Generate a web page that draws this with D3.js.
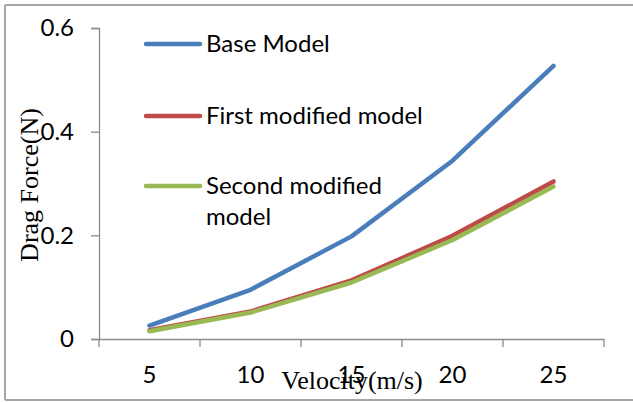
<!DOCTYPE html>
<html>
<head>
<meta charset="utf-8">
<script src="https://cdn.jsdelivr.net/npm/d3@7"></script>
<style>
  body { margin: 0; background: #fff; }
  svg { display: block; }
</style>
</head>
<body>
<div id="chart-area"></div>
<script>
const WIDTH = 633
const HEIGHT = 403
const MARGIN = { LEFT: 99, RIGHT: 29, TOP: 28, BOTTOM: 64 }

// data
const velocities = ["5", "10", "15", "20", "25"]
const baseModel = [0.026, 0.095, 0.198, 0.344, 0.527]
const firstModified = [0.017, 0.053, 0.113, 0.199, 0.304]
const secondModified = [0.015, 0.051, 0.109, 0.191, 0.294]
const yTicks = [0, 0.2, 0.4, 0.6]

const seriesNames = ["Base Model", "First modified model", "Second modified model"]
const seriesColors = ["#4a7ebb", "#be4b48", "#98b954"]
const series = [baseModel, firstModified, secondModified]

const svg = d3.select("#chart-area").append("svg")
  .attr("width", WIDTH)
  .attr("height", HEIGHT)

// outer frame (right side is cut off in the picture)
const frame = svg.append("g").attr("stroke", "#a6a6a6").attr("stroke-width", 2)
frame.append("line").attr("x1", 5).attr("x2", WIDTH).attr("y1", 5).attr("y2", 5)
frame.append("line").attr("x1", 5).attr("x2", 5).attr("y1", 5).attr("y2", 400)
frame.append("line").attr("x1", 5).attr("x2", WIDTH).attr("y1", 400).attr("y2", 400)

// scales
const x = d3.scaleBand()
  .domain(velocities)
  .range([MARGIN.LEFT, WIDTH - MARGIN.RIGHT])
  .paddingInner(0)
  .paddingOuter(0)
const y = d3.scaleLinear()
  .domain([0, 0.6])
  .range([HEIGHT - MARGIN.BOTTOM, MARGIN.TOP])

const labelFont = "Lato, 'Open Sans', sans-serif"
const titleFont = "'Liberation Serif', 'DejaVu Serif', serif"

// y axis
const yAxis = svg.append("g")
  .attr("transform", `translate(${MARGIN.LEFT}, 0)`)
  .call(d3.axisLeft(y).tickValues(yTicks).tickSize(8).tickPadding(17)
    .tickFormat(d => d === 0 ? "0" : d3.format(".1f")(d)))
yAxis.select(".domain").attr("stroke", "#8c8c8c").attr("stroke-width", 1.3)
yAxis.selectAll(".tick line").attr("stroke", "#8c8c8c").attr("stroke-width", 1.3)
yAxis.selectAll("text")
  .attr("font-family", labelFont)
  .attr("font-size", "24px")
  .attr("fill", "#000")

// x axis: labels centred in bands, tick marks on band edges
const xAxis = svg.append("g")
  .attr("transform", `translate(0, ${y(0)})`)
  .call(d3.axisBottom(x).tickSize(0).tickSizeOuter(0))
xAxis.select(".domain").attr("stroke", "#8c8c8c").attr("stroke-width", 1.3)
xAxis.selectAll("text")
  .attr("y", 44)
  .attr("dy", 0)
  .attr("font-family", labelFont)
  .attr("font-size", "24px")
  .attr("fill", "#000")

const edges = velocities.map(v => x(v)).concat([x(velocities[velocities.length - 1]) + x.bandwidth()])
xAxis.selectAll(".edge")
  .data(edges)
  .enter().append("line")
  .attr("class", "edge")
  .attr("x1", d => d)
  .attr("x2", d => d)
  .attr("y1", 0)
  .attr("y2", 8)
  .attr("stroke", "#8c8c8c")
  .attr("stroke-width", 1.3)

// axis titles
svg.append("text")
  .attr("transform", `translate(38, ${185}) rotate(-90)`)
  .attr("text-anchor", "middle")
  .attr("font-family", titleFont)
  .attr("font-size", "26px")
  .text("Drag Force(N)")

svg.append("text")
  .attr("x", 352)
  .attr("y", 389)
  .attr("text-anchor", "middle")
  .attr("font-family", titleFont)
  .attr("font-size", "26px")
  .text("Velocity(m/s)")

// lines
const line = d3.line()
  .x((d, i) => x(velocities[i]) + x.bandwidth() / 2)
  .y(d => y(d))

svg.selectAll(".series")
  .data(series)
  .enter().append("path")
  .attr("class", "series")
  .attr("fill", "none")
  .attr("stroke", (d, i) => seriesColors[i])
  .attr("stroke-width", 4.5)
  .attr("stroke-linejoin", "round")
  .attr("stroke-linecap", "round")
  .attr("d", line)

// legend
const legendY = [44, 116, 186]
const legend = svg.append("g")
const items = legend.selectAll("g")
  .data(seriesNames)
  .enter().append("g")
  .attr("transform", (d, i) => `translate(146, ${legendY[i]})`)
items.append("line")
  .attr("x1", 0)
  .attr("x2", 54)
  .attr("stroke", (d, i) => seriesColors[i])
  .attr("stroke-width", 4.5)
  .attr("stroke-linecap", "round")
const legendText = items.append("text")
  .attr("x", 60)
  .attr("font-family", labelFont)
  .attr("font-size", "24px")
  .attr("fill", "#000")
legendText.each(function (d, i) {
  const lines = i === 2 ? ["Second modified", "model"] : [d]
  d3.select(this).selectAll("tspan")
    .data(lines)
    .enter().append("tspan")
    .attr("x", 60)
    .attr("y", (t, j) => 8 + j * 31)
    .text(t => t)
})
</script>
</body>
</html>
